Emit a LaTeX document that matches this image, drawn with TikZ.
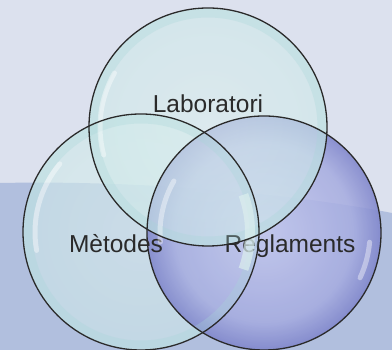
\documentclass[tikz,border=0pt]{standalone}
\usepackage{fontspec}
\setmainfont{Liberation Sans}
\usetikzlibrary{calc}
\definecolor{bgtop}{HTML}{DCE1EE}
\definecolor{bgband}{HTML}{B1BFDE}
\definecolor{ink}{HTML}{2A2A2A}
\definecolor{lc}{HTML}{DCEFEE}
\definecolor{lm}{HTML}{D0EAEA}
\definecolor{le}{HTML}{A8D6D8}
\definecolor{bc}{HTML}{C4C8EE}
\definecolor{bm}{HTML}{A6ACE0}
\definecolor{bk}{HTML}{6A70C0}
\definecolor{be}{HTML}{2E3496}
\pgfdeclareradialshading{lightbubble}{\pgfpoint{0bp}{0bp}}{color(0bp)=(lc); color(22bp)=(lm); color(32bp)=(lm); color(35.4bp)=(le); color(50bp)=(le)}
\pgfdeclareradialshading{bluebubble}{\pgfpoint{0bp}{0bp}}{color(0bp)=(bc); color(19bp)=(bm); color(28bp)=(bk); color(34bp)=(be); color(50bp)=(be)}
\begin{document}
\begin{tikzpicture}[x=1pt,y=1pt,
  bub/.style={circle, inner sep=0pt, outer sep=0pt, minimum size=#1},
  lightfill/.style={shading=lightbubble, fill opacity=0.6},
  bluefill/.style={shading=bluebubble, fill opacity=0.86},
  ring/.style={draw=ink, line width=1.3pt},
  glow/.style={draw=le, line width=9pt, opacity=0.3},
  hl/.style={draw=white, line width=5pt, line cap=round, opacity=0.4},
  lbl/.style={font=\fontsize{24.5}{28}\selectfont, text=ink, anchor=base, inner sep=0pt}]
\useasboundingbox (0,0) rectangle (392,350);
\fill[bgtop] (0,0) rectangle (392,350);
\fill[bgband] (0,167) .. controls (150,170) and (300,155) .. (392,137) -- (392,0) -- (0,0) -- cycle;
% bubbles
\node[bub=236pt, lightfill] (met) at (141,118) {};
\node[bub=234pt, bluefill] (reg) at (264,117) {};
\node[bub=238pt, lightfill] (lab) at (208,223) {};
% labels
\node[lbl] (treg) at (290,97) {Reglaments};
\node[lbl] (tmet) at (116,97) {Mètodes};
\node[lbl] (tlab) at (208,237) {Laboratori};
% rim glows of the light bubbles
\draw[glow] (met.center) circle[radius=113];
\draw[glow] (lab.center) circle[radius=114];
\draw[draw=lc, line width=10pt, opacity=0.7] ($(met.center)+(-20:109)$) arc[start angle=-20, end angle=20, radius=109];
% highlights
\draw[hl] ($(lab.center)+(150:108)$) arc[start angle=150, end angle=195, radius=108];
\draw[hl] ($(met.center)+(140:106)$) arc[start angle=140, end angle=190, radius=106];
\draw[hl] ($(reg.center)+(150:104)$) arc[start angle=150, end angle=185, radius=104];
\draw[hl] ($(reg.center)+(-5:106)$) arc[start angle=-5, end angle=-25, radius=106];
% outlines
\draw[ring] (met.center) circle[radius=118];
\draw[ring] (reg.center) circle[radius=117];
\draw[ring] (lab.center) circle[radius=119];
\end{tikzpicture}
\end{document}
